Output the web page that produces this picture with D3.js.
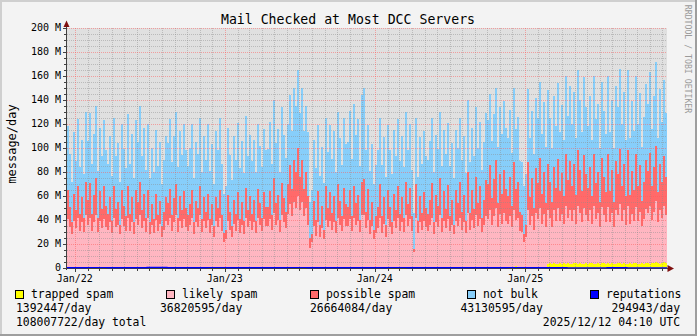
<!DOCTYPE html>
<html><head><meta charset="utf-8">
<script src="https://cdn.jsdelivr.net/npm/d3@7"></script>
<style>
html,body{margin:0;padding:0;background:#F3F3F3;}
svg{display:block;}
text{font-family:"DejaVu Sans Mono",monospace;}
</style>
</head><body>
<svg id="chart" width="697" height="336"></svg>
<script>
// ---------------- data ----------------
const chartTitle = "Mail Checked at Most DCC Servers";
const yAxisTitle = "message/day";
const watermark = "RRDTOOL / TOBI OETIKER";
const startDate = "2021-12-13";
const endDate = "2025-12-12";
const yMajorTicks = [0, 20, 40, 60, 80, 100, 120, 140, 160, 180, 200];
const yTickLabels = ["0", "20 M", "40 M", "60 M", "80 M", "100 M", "120 M", "140 M", "160 M", "180 M", "200 M"];
const xTickDates = ["2022-01-01", "2023-01-01", "2024-01-01", "2025-01-01"];
const xTickLabels = ["Jan/22", "Jan/23", "Jan/24", "Jan/25"];

// values in millions of messages/day, one per sample column
const trapped = [
0,0,0,0,0,0,0,0,0,0, 0,0,0,0,0,0,0,0,0,0, 0,0,0,0,0,0,0,0,0,0, 0,0,0,0,0,0,0,0,0,0,
0,0,0,0,0,0,0,0,0,0, 0,0,0,0,0,0,0,0,0,0, 0,0,0,0,0,0,0,0,0,0, 0,0,0,0,0,0,0,0,0,0,
0,0,0,0,0,0,0,0,0,0, 0,0,0,0,0,0,0,0,0,0, 0,0,0,0,0,0,0,0,0,0, 0,0,0,0,0,0,0,0,0,0,
0,0,0,0,0,0,0,0,0,0, 0,0,0,0,0,0,0,0,0,0, 0,0,0,0,0,0,0,0,0,0, 0,0,0,0,0,0,0,0,0,0,
0,0,0,0,0,0,0,0,0,0, 0,0,0,0,0,0,0,0,0,0, 0,0,0,0,0,0,0,0,0,0, 0,0,0,0,0,0,0,0,0,0,
0,0,0,0,0,0,0,0,0,0, 0,0,0,0,0,0,0,0,0,0, 0,0,0,0,2,0,1,0,0,0, 0,0,0,0,0,0,0,0,0,0,
3,4,3,4,3,3,4,3,4,3, 4,3,3,4,4,3,4,3,3,4, 3,4,4,3,3,4,3,4,4,3,
4,3,4,3,3,4,4,3,4,3, 3,4,3,4,4,3,3,4,3,4, 4,3,4,4,5,4,3,4,5,4
];
const likely = [
41,34,28,39,33,42,31,38,30,44, 36,42,31,38,44,30,39,33,41,34,
32,38,29,42,34,36,28,41,35,31, 42,31,38,28,41,36,44,33,39,30,
42,28,36,29,40,31,37,26,32,39, 36,42,31,38,44,30,39,33,41,34,
31,36,42,28,38,34,44,30,39,33, 40,29,36,26,39,34,42,31,22,24,
39,32,26,37,31,40,29,36,28,42, 34,39,32,38,29,42,36,31,41,35,
35,41,32,46,36,40,30,44,38,33, 45,53,43,55,50,60,48,55,43,50,
36,17,22,35,27,38,26,33,24,40, 34,39,32,38,29,42,36,31,41,35,
35,41,31,42,36,39,30,44,44,33, 40,28,35,24,29,33,42,29,37,26,
41,34,28,39,33,42,31,38,30,44, 35,41,31,13,42,29,38,32,39,34,
31,36,42,28,38,34,44,30,39,33, 41,31,36,28,39,35,42,32,38,29,
46,32,40,33,44,35,41,30,36,43, 41,48,36,43,50,34,45,37,46,39,
37,43,34,48,38,42,30,30,22,26, 48,36,43,32,46,41,50,37,45,34,
45,38,31,44,36,47,35,42,33,49, 38,45,36,44,33,49,42,35,47,40,
36,44,33,49,38,42,31,47,40,35, 47,35,42,31,45,40,49,36,44,33,
49,33,42,35,47,36,44,31,38,45, 42,49,36,43,51,34,45,38,47,40
];
const possible = [
24,17,10,23,15,26,14,21,12,28, 21,29,14,23,31,12,25,16,27,18,
13,21,10,26,15,19,8,24,17,12, 26,14,21,10,24,19,28,15,23,12,
23,10,17,12,22,13,19,9,15,20, 18,24,13,20,26,12,21,15,23,16,
13,17,23,10,18,16,24,11,20,14, 22,12,17,9,20,16,23,13,7,8,
22,15,9,20,14,23,12,19,11,25, 14,21,13,19,10,24,18,11,22,16,
16,23,12,29,18,21,10,27,20,14, 25,33,23,35,30,40,28,35,23,30,
24,8,6,21,13,26,10,19,8,28, 16,24,14,22,10,28,20,12,26,18,
16,24,12,26,18,22,10,28,30,14, 26,12,20,8,14,18,28,14,22,10,
24,17,10,23,15,26,14,21,12,28, 18,26,12,3,28,10,22,14,24,16,
14,21,29,10,23,18,31,12,25,16, 28,12,21,8,26,19,30,15,23,10,
34,14,25,16,32,19,27,12,21,30, 29,38,22,31,40,20,33,25,36,27,
23,33,18,40,26,30,16,14,6,10, 40,23,32,18,37,30,42,25,35,20,
39,30,21,36,28,41,25,34,23,43, 31,41,29,39,24,46,36,26,44,34,
28,36,23,43,30,34,21,41,32,25, 44,26,36,21,41,34,46,29,39,24,
46,24,36,26,44,29,39,21,31,41, 35,44,28,37,46,25,39,30,41,32
];
const notBulk = [
53,44,34,51,41,56,39,48,36,58, 49,58,42,51,60,39,53,44,55,46,
42,51,38,57,44,49,36,55,47,40, 60,42,53,37,58,50,63,45,55,40,
55,37,47,39,53,41,49,35,43,51, 50,58,44,52,60,42,54,46,56,48,
41,47,55,37,49,45,57,39,51,43, 58,40,50,35,55,48,60,43,33,36,
56,47,38,53,45,58,42,51,40,60, 45,51,44,50,41,54,48,42,53,47,
48,58,43,65,50,55,40,63,53,45, 50,58,48,60,55,65,53,60,48,55,
53,30,37,51,43,55,41,49,39,57, 47,56,45,54,41,60,52,43,58,50,
54,66,48,69,57,63,45,72,76,51, 53,41,48,38,43,47,55,43,50,40,
54,47,40,53,45,56,44,51,42,58, 45,53,39,30,55,37,49,41,51,43,
45,49,54,42,50,47,55,43,51,46, 52,42,47,39,50,46,53,43,49,40,
60,42,52,44,58,46,54,40,48,56, 53,59,48,54,60,47,56,50,57,51,
48,56,44,62,50,54,42,44,40,42, 61,49,56,45,59,54,63,50,58,47,
61,53,45,59,51,63,49,57,47,65, 54,63,52,60,47,67,58,49,65,56,
51,59,47,65,53,57,45,63,55,49, 65,49,58,45,63,56,67,52,60,47,
67,47,58,49,65,52,60,45,54,63, 56,67,48,59,70,45,62,50,64,53
];
// reputations, coarser samples
const reputations = [0.3,0.4,0.3,0.3,0.5,0.3,0.3,0.4,0.3,0.3,0.3,0.4,0.3,0.3,0.3,0.3,0.4,0.3,0.3,0.3,0.3,0.3,0.4,0.3,0.3,0.2,0.2,0.3,0.2,0.2];

const seriesKeys = ["trapped", "likely", "possible", "notBulk"];
const legendNames = ["trapped spam", "likely spam", "possible spam", "not bulk", "reputations"];
const legendColors = ["#FFFF00", "#FFB6C1", "#FF6A6A", "#87CEFA", "#0000FF"];
const legendAverages = ["1392447/day", "36820595/day", "26664084/day", "43130595/day", "294943/day"];
const totalLabel = "108007722/day total";
const stampLabel = "2025/12/12 04:10 UTC";

// ---------------- drawing ----------------
const W = 697, H = 336;
const svg = d3.select("#chart");
const parse = d3.utcParse("%Y-%m-%d");
const t0 = parse(startDate), t1 = parse(endDate);
const x = d3.scaleUtc().domain([t0, t1]).range([67, 667]);
const y = d3.scaleLinear().domain([0, 200]).range([268, 28]);

// background & 3D frame
svg.append("rect").attr("width", W).attr("height", H).attr("fill", "#F3F3F3");
svg.append("rect").attr("x", 0).attr("y", 0).attr("width", W).attr("height", 2).attr("fill", "#CFCFCF");
svg.append("rect").attr("x", 0).attr("y", 0).attr("width", 2).attr("height", H).attr("fill", "#CFCFCF");
svg.append("rect").attr("x", 0).attr("y", H - 2).attr("width", W).attr("height", 2).attr("fill", "#9E9E9E");
svg.append("rect").attr("x", W - 2).attr("y", 0).attr("width", 2).attr("height", H).attr("fill", "#9E9E9E");

// canvas
svg.append("rect").attr("x", x.range()[0]).attr("y", y(200)).attr("width", x.range()[1] - x.range()[0])
  .attr("height", y(0) - y(200)).attr("fill", "#E0E0E0");

// samples
const n = likely.length;
const step = (t1 - t0) / n;
const rows = d3.range(n).map(i => ({
  t: new Date(+t0 + i * step), t2: new Date(+t0 + (i + 1) * step),
  trapped: trapped[i], likely: likely[i], possible: possible[i], notBulk: notBulk[i]
}));
const stack = d3.stack().keys(seriesKeys)(rows);
const gData = svg.append("g").attr("shape-rendering", "crispEdges");
stack.forEach((layer, k) => {
  gData.append("g").attr("fill", legendColors[k]).selectAll("rect").data(layer).join("rect")
    .attr("x", d => x(d.data.t))
    .attr("width", d => x(d.data.t2) - x(d.data.t))
    .attr("y", d => y(d[1]))
    .attr("height", d => Math.max(0, y(d[0]) - y(d[1])));
});

// grid (drawn over data like rrdtool)
const grid = svg.append("g").attr("shape-rendering", "crispEdges");
const minorY = d3.range(0, 201, 5).filter(v => v % 20 !== 0);
grid.selectAll(".hm").data(minorY).join("line")
  .attr("x1", 67).attr("x2", 667).attr("y1", d => Math.round(y(d)) + 0.5).attr("y2", d => Math.round(y(d)) + 0.5)
  .attr("stroke", "rgba(140,140,140,0.45)").attr("stroke-dasharray", "1,1");
const months = d3.utcMonth.range(t0, t1).filter(d => d.getUTCMonth() !== 0);
grid.selectAll(".vm").data(months).join("line")
  .attr("y1", 28).attr("y2", 268).attr("x1", d => Math.round(x(d)) + 0.5).attr("x2", d => Math.round(x(d)) + 0.5)
  .attr("stroke", "rgba(140,140,140,0.45)").attr("stroke-dasharray", "1,1");
grid.selectAll(".hM").data(yMajorTicks.filter(v => v > 0)).join("line")
  .attr("x1", 67).attr("x2", 667).attr("y1", d => Math.round(y(d)) + 0.5).attr("y2", d => Math.round(y(d)) + 0.5)
  .attr("stroke", "rgba(255,90,90,0.5)").attr("stroke-dasharray", "1,1");
grid.selectAll(".vM").data(xTickDates.map(parse)).join("line")
  .attr("y1", 28).attr("y2", 268).attr("x1", d => Math.round(x(d)) + 0.5).attr("x2", d => Math.round(x(d)) + 0.5)
  .attr("stroke", "rgba(255,90,90,0.5)").attr("stroke-dasharray", "1,1");

// axes
const axisCol = "#404040";
const ax = svg.append("g").attr("shape-rendering", "crispEdges");
ax.append("line").attr("x1", 66.5).attr("x2", 66.5).attr("y1", 23).attr("y2", 270).attr("stroke", axisCol);
ax.append("line").attr("x1", 64).attr("x2", 670).attr("y1", 268.5).attr("y2", 268.5).attr("stroke", axisCol);
ax.selectAll(".ytm").data(d3.range(0, 201, 5)).join("line")
  .attr("x1", d => d % 20 === 0 ? 63 : 64).attr("x2", 66).attr("y1", d => Math.round(y(d)) + 0.5).attr("y2", d => Math.round(y(d)) + 0.5)
  .attr("stroke", axisCol);
ax.selectAll(".xtm").data(d3.utcMonth.range(t0, t1)).join("line")
  .attr("x1", d => Math.round(x(d)) + 0.5).attr("x2", d => Math.round(x(d)) + 0.5).attr("y1", 269).attr("y2", d => d.getUTCMonth() === 0 ? 272 : 271)
  .attr("stroke", axisCol);

// reputations line
const repStep = (t1 - t0) / reputations.length;
const repPts = reputations.map((v, i) => [new Date(+t0 + i * repStep), v]);
repPts.push([t1, reputations[reputations.length - 1]]);
svg.append("path").attr("d", d3.line().curve(d3.curveStepAfter).x(d => x(d[0])).y(d => y(d[1]))(repPts))
  .attr("fill", "none").attr("stroke", legendColors[4]).attr("stroke-width", 1.2);

// arrows
const arrowCol = "#7F0F0F";
svg.append("path").attr("d", `M63.5,27 L66.5,20.5 L69.5,27 Z`).attr("fill", arrowCol);
svg.append("path").attr("d", `M667.5,265 L674,268.5 L667.5,272 Z`).attr("fill", arrowCol);

// tick labels
svg.append("g").selectAll("text").data(yMajorTicks).join("text")
  .attr("x", 61).attr("y", d => y(d) + 3.4).attr("text-anchor", "end")
  .attr("font-size", "10px").attr("fill", "#000").text((d, i) => yTickLabels[i]);
svg.append("g").selectAll("text").data(xTickDates).join("text")
  .attr("x", d => x(parse(d))).attr("y", 281.5).attr("text-anchor", "middle")
  .attr("font-size", "10px").attr("fill", "#000").text((d, i) => xTickLabels[i]);

// title, y title, watermark
svg.append("text").attr("x", 348).attr("y", 24).attr("text-anchor", "middle")
  .attr("font-size", "13.2px").attr("fill", "#000").text(chartTitle);
svg.append("text").attr("transform", "translate(16,144) rotate(-90)").attr("text-anchor", "middle")
  .attr("font-size", "12px").attr("fill", "#000").text(yAxisTitle);
svg.append("text").attr("transform", "translate(685,59) rotate(90)").attr("text-anchor", "middle")
  .attr("font-size", "8.2px").attr("fill", "#9A9A9A").text(watermark);

// legend
const legX = [15, 166, 310, 467, 590];
const lg = svg.append("g");
legendNames.forEach((name, i) => {
  lg.append("rect").attr("x", legX[i] + 0.5).attr("y", 290.5).attr("width", 8).attr("height", 8)
    .attr("fill", legendColors[i]).attr("stroke", "#000").attr("stroke-width", 1);
  lg.append("text").attr("x", legX[i] + 16).attr("y", 297.5).attr("font-size", "11.4px").attr("fill", "#000").text(name);
});
const avgX = [16, 160, 310, 460.5, 680];
legendAverages.forEach((s, i) => {
  lg.append("text").attr("x", avgX[i]).attr("y", 311.7).attr("text-anchor", i === 4 ? "end" : "start")
    .attr("font-size", "11.4px").attr("fill", "#000").text(s);
});
lg.append("text").attr("x", 16).attr("y", 325.6).attr("font-size", "11.4px").attr("fill", "#000").text(totalLabel);
lg.append("text").attr("x", 680).attr("y", 325.6).attr("text-anchor", "end").attr("font-size", "11.4px").attr("fill", "#000").text(stampLabel);
</script>
</body></html>
